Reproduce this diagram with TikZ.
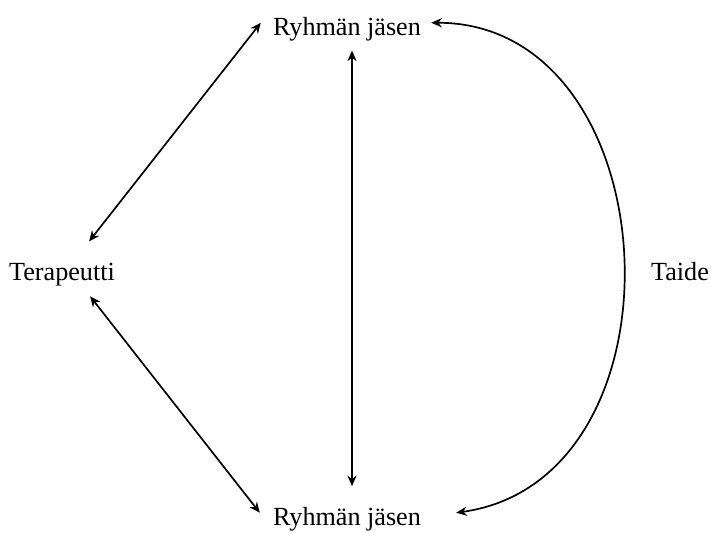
\documentclass[tikz,border=0pt]{standalone}
\usepackage{fontspec}
\setmainfont{Liberation Serif}
\usetikzlibrary{arrows.meta, positioning}

\begin{document}
\begin{tikzpicture}[
    x=0.025cm, y=-0.025cm,
    >={Stealth[length=7.5pt, width=6.5pt]},
    lbl/.style={inner sep=0pt, anchor=base,
                font=\fontsize{18.6}{22}\selectfont},
    link/.style={<->, line width=1.2pt}
  ]
  \useasboundingbox (0,0) rectangle (711,533);

  \node[lbl] (top) at (347,35) {Ryhmän jäsen};
  \node[lbl] (bot) at (347,525) {Ryhmän jäsen};
  \node[lbl] (ter) at (62,280) {Terapeutti};
  \node[lbl] (art) at (680,280) {Taide};

  \draw[link] ([xshift=-0.65cm, yshift=0.525cm]ter.north east)
    -- ([xshift=-0.3cm, yshift=0.15cm]top.west);
  \draw[link] ([xshift=-0.625cm, yshift=-0.26cm]ter.south east)
    -- ([xshift=-0.325cm, yshift=0.15cm]bot.west);
  \draw[link] ([xshift=0.125cm, yshift=-0.24cm]top.south)
    -- ([xshift=0.125cm, yshift=0.51cm]bot.north);

  % the art links both members
  \draw[link] ([xshift=0.25cm, yshift=0.15cm]top.east)
    to[out=0, in=8, looseness=1.25]
    ([xshift=0.875cm, yshift=0.15cm]bot.east);
\end{tikzpicture}
\end{document}
